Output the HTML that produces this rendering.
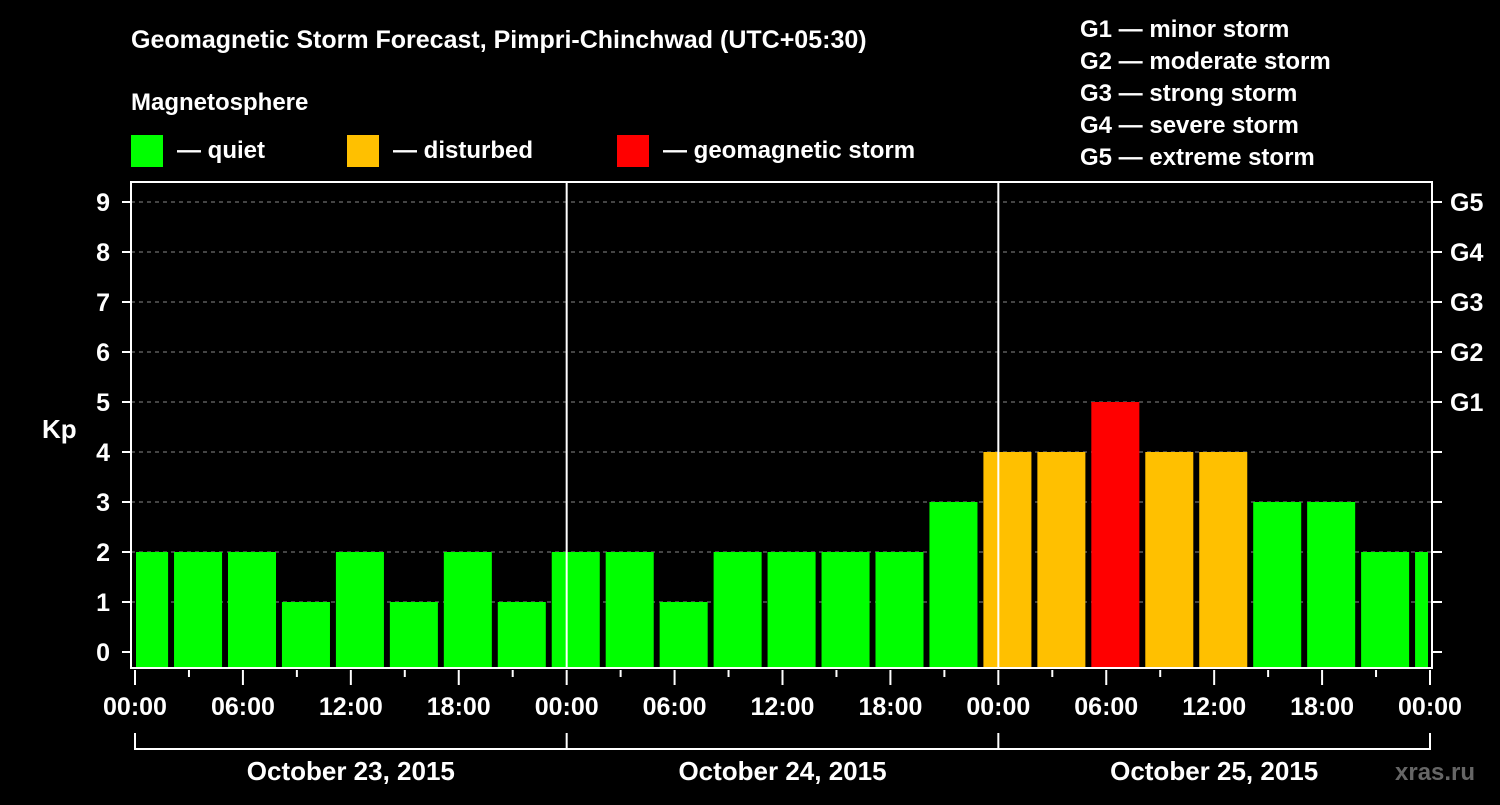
<!DOCTYPE html>
<html><head><meta charset="utf-8"><style>
html,body{margin:0;padding:0;background:#000;}
svg text{font-family:"Liberation Sans",Arial,sans-serif;font-weight:bold;fill:#fff;}
</style></head><body>
<svg id="chart" width="1500" height="800" viewBox="0 0 1500 800" xmlns="http://www.w3.org/2000/svg">
<rect x="0" y="0" width="1500" height="800" fill="#000"/>
<text x="131" y="48" font-size="25">Geomagnetic Storm Forecast, Pimpri-Chinchwad (UTC+05:30)</text>
<text x="131" y="110" font-size="24">Magnetosphere</text>
<g><rect x="131" y="135" width="32" height="32" fill="#00ff00"/><text x="177" y="158" font-size="24">— quiet</text></g>
<g><rect x="347" y="135" width="32" height="32" fill="#ffc000"/><text x="393" y="158" font-size="24">— disturbed</text></g>
<g><rect x="617" y="135" width="32" height="32" fill="#ff0000"/><text x="663" y="158" font-size="24">— geomagnetic storm</text></g>
<g font-size="24">
<text x="1080" y="37">G1 — minor storm</text>
<text x="1080" y="69">G2 — moderate storm</text>
<text x="1080" y="101">G3 — strong storm</text>
<text x="1080" y="133">G4 — severe storm</text>
<text x="1080" y="165">G5 — extreme storm</text>
</g>
<text x="42" y="438" font-size="26">Kp</text>
<text x="1395" y="780" font-size="24" fill="#666" style="fill:#666">xras.ru</text>
<g id="grid"></g><g id="bars"></g><g id="axes"></g>
</svg>
<script>
const kpValues=[2,2,2,1,2,1,2,1,2,2,1,2,2,2,2,3,4,4,5,4,4,3,3,2,2];
const yTicks=[0,1,2,3,4,5,6,7,8,9];
const gLabels=["G1","G2","G3","G4","G5"];
const gKp=[5,6,7,8,9];
const xTickLabels=["00:00","06:00","12:00","18:00","00:00","06:00","12:00","18:00","00:00","06:00","12:00","18:00","00:00"];
const dayLabels=["October 23, 2015","October 24, 2015","October 25, 2015"];
const NS="http://www.w3.org/2000/svg";
const L=131,R=1432,T=182,B=668;
const x0=135,x1=1430,H=72;
function xs(h){return x0+h*(x1-x0)/H;}
function ys(v){return 652-v*50;}
function mk(tag,attrs,parent){const e=document.createElementNS(NS,tag);for(const k in attrs)e.setAttribute(k,attrs[k]);parent.appendChild(e);return e;}
const grid=document.getElementById('grid'),bars=document.getElementById('bars'),axes=document.getElementById('axes');
yTicks.forEach(v=>{if(v>0){const g=mk('line',{x1:L,x2:R,y1:ys(v),y2:ys(v),stroke:'#888','stroke-width':1,'stroke-dasharray':'4,4'},grid);

}});
kpValues.forEach((v,i)=>{
 let s=3*i-0.83,e=s+2.67;
 let a=Math.max(xs(s),x0+1),b=Math.min(xs(e),x1-2);
 const c=v>=5?'#ff0000':(v>=4?'#ffc000':'#00ff00');
 const r=mk('rect',{x:a,y:ys(v),width:b-a,height:B-ys(v),fill:c},bars);
 
 
});
// day separators
[1,2].forEach(d=>{const l=mk('line',{x1:xs(24*d),x2:xs(24*d),y1:T,y2:B,stroke:'#fff','stroke-width':2},axes);

});
const fr=mk('rect',{x:L,y:T,width:R-L,height:B-T,fill:'none',stroke:'#fff','stroke-width':2},axes);


yTicks.forEach(v=>{
 mk('line',{x1:122,x2:L,y1:ys(v),y2:ys(v),stroke:'#fff','stroke-width':2},axes);
 mk('line',{x1:R,x2:1442,y1:ys(v),y2:ys(v),stroke:'#fff','stroke-width':2},axes);
 const t=mk('text',{x:110,y:ys(v)+9,'font-size':25,'text-anchor':'end'},axes);t.textContent=v;
 
 
});
gKp.forEach((v,i)=>{const t=mk('text',{x:1450,y:ys(v)+9,'font-size':25},axes);t.textContent=gLabels[i];

});
for(let h=0;h<=72;h+=3){const maj=h%6===0;mk('line',{x1:xs(h),x2:xs(h),y1:B+2,y2:maj?685:677,stroke:'#fff','stroke-width':2},axes);}
xTickLabels.forEach((s,i)=>{const t=mk('text',{x:xs(6*i),y:715,'font-size':25,'text-anchor':'middle'},axes);t.textContent=s;

});
mk('line',{x1:xs(0),x2:xs(72),y1:749,y2:749,stroke:'#fff','stroke-width':2},axes);
for(let d=0;d<=3;d++)mk('line',{x1:xs(24*d),x2:xs(24*d),y1:733,y2:750,stroke:'#fff','stroke-width':2},axes);
dayLabels.forEach((s,i)=>{const t=mk('text',{x:xs(24*i+12),y:780,'font-size':26,'text-anchor':'middle'},axes);t.textContent=s;

});
</script>
</body></html>
